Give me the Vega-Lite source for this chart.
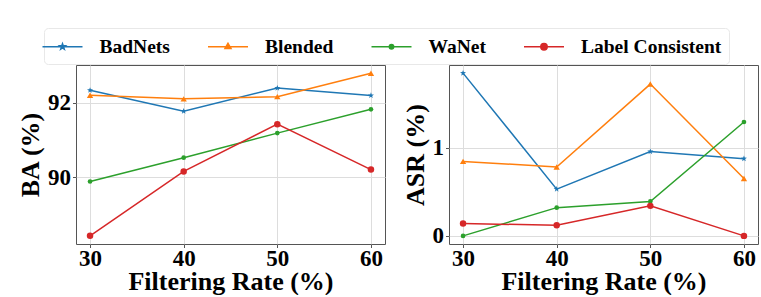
{
  "$schema": "https://vega.github.io/schema/vega-lite/v6.json",
  "padding": {"left": 17, "top": 27, "right": 0, "bottom": 0},
  "background": "white",
  "spacing": 15,
  "config": {
    "view": {"stroke": "#555555", "strokeWidth": 1},
    "font": "Liberation Serif, Times New Roman, serif",
    "axis": {
      "labelFont": "Liberation Serif, Times New Roman, serif", "labelFontSize": 23, "labelFontWeight": "bold", "labelColor": "#000000",
      "titleFont": "Liberation Serif, Times New Roman, serif", "titleFontSize": 26, "titleFontWeight": "bold", "titleColor": "#000000",
      "domain": false, "ticks": true, "tickSize": 3.5, "tickColor": "#555555", "labelPadding": 2,
      "gridColor": "#dddddd", "gridWidth": 1
    },
    "axisX": {"titlePadding": -2, "labelPadding": 0},
    "axisY": {"titlePadding": 4}
  },
  "datasets": {
    "ba": [
      {"rate": 30, "attack": "BadNets", "value": 92.34},
      {"rate": 40, "attack": "BadNets", "value": 91.78},
      {"rate": 50, "attack": "BadNets", "value": 92.40},
      {"rate": 60, "attack": "BadNets", "value": 92.20},
      {"rate": 30, "attack": "Blended", "value": 92.21},
      {"rate": 40, "attack": "Blended", "value": 92.11},
      {"rate": 50, "attack": "Blended", "value": 92.17},
      {"rate": 60, "attack": "Blended", "value": 92.80},
      {"rate": 30, "attack": "WaNet", "value": 89.89},
      {"rate": 40, "attack": "WaNet", "value": 90.53},
      {"rate": 50, "attack": "WaNet", "value": 91.19},
      {"rate": 60, "attack": "WaNet", "value": 91.83},
      {"rate": 30, "attack": "Label Consistent", "value": 88.43},
      {"rate": 40, "attack": "Label Consistent", "value": 90.16},
      {"rate": 50, "attack": "Label Consistent", "value": 91.43},
      {"rate": 60, "attack": "Label Consistent", "value": 90.21}
    ],
    "asr": [
      {"rate": 30, "attack": "BadNets", "value": 1.844},
      {"rate": 40, "attack": "BadNets", "value": 0.53},
      {"rate": 50, "attack": "BadNets", "value": 0.955},
      {"rate": 60, "attack": "BadNets", "value": 0.875},
      {"rate": 30, "attack": "Blended", "value": 0.844},
      {"rate": 40, "attack": "Blended", "value": 0.78},
      {"rate": 50, "attack": "Blended", "value": 1.72},
      {"rate": 60, "attack": "Blended", "value": 0.65},
      {"rate": 30, "attack": "WaNet", "value": 0.0},
      {"rate": 40, "attack": "WaNet", "value": 0.32},
      {"rate": 50, "attack": "WaNet", "value": 0.39},
      {"rate": 60, "attack": "WaNet", "value": 1.29},
      {"rate": 30, "attack": "Label Consistent", "value": 0.14},
      {"rate": 40, "attack": "Label Consistent", "value": 0.12},
      {"rate": 50, "attack": "Label Consistent", "value": 0.34},
      {"rate": 60, "attack": "Label Consistent", "value": 0.0}
    ]
  },
  "hconcat": [
    {
      "width": 309, "height": 179,
      "data": {"name": "ba"},
      "encoding": {
        "x": {"field": "rate", "type": "quantitative", "title": "Filtering Rate (%)",
              "scale": {"domain": [28.5, 61.5], "nice": false, "zero": false},
              "axis": {"values": [30, 40, 50, 60]}},
        "y": {"field": "value", "type": "quantitative", "title": "BA (%)",
              "scale": {"domain": [88.21, 93.02], "nice": false, "zero": false},
              "axis": {"values": [90, 92]}},
        "color": {"field": "attack", "type": "nominal",
          "scale": {"domain": ["BadNets", "Blended", "WaNet", "Label Consistent"], "range": ["#1f77b4", "#ff7f0e", "#2ca02c", "#d62728"]},
          "legend": {
            "orient": "none", "legendX": -32, "legendY": -37, "direction": "horizontal", "columns": 4, "title": null,
            "labelFont": "Liberation Serif, Times New Roman, serif", "labelFontSize": 19.5, "labelFontWeight": "bold", "labelColor": "#000000",
            "symbolSize": 400, "symbolStrokeWidth": 1.5, "labelOffset": 26, "columnPadding": 34.5, "padding": 7.5,
            "strokeColor": "#e8e8e8", "cornerRadius": 4, "fillColor": "white",
            "encode": {"symbols": {"update": {
              "shape": {"signal": "datum.value == 'BadNets' ? 'M-2,0L2,0M0,-0.3L0.072,-0.1L0.286,-0.094L0.114,0.036L0.178,0.244L0,0.12L-0.178,0.244L-0.114,0.036L-0.286,-0.094L-0.072,-0.1Z' : datum.value == 'Blended' ? 'M-2,0L2,0M0,-0.34L0.3,0.18L-0.3,0.18Z' : datum.value == 'WaNet' ? 'M-2,0L2,0M-0.22,0A0.22,0.22 0 1,0 0.22,0A0.22,0.22 0 1,0 -0.22,0Z' : 'M-2,0L2,0M-0.32,0A0.32,0.32 0 1,0 0.32,0A0.32,0.32 0 1,0 -0.32,0Z'"},
              "fill": {"signal": "datum.value == 'BadNets' ? '#1f77b4' : datum.value == 'Blended' ? '#ff7f0e' : datum.value == 'WaNet' ? '#2ca02c' : '#d62728'"},
              "stroke": {"signal": "datum.value == 'BadNets' ? '#1f77b4' : datum.value == 'Blended' ? '#ff7f0e' : datum.value == 'WaNet' ? '#2ca02c' : '#d62728'"},
              "strokeWidth": {"value": 1.5},
              "opacity": {"value": 1},
              "fillOpacity": {"value": 1},
              "strokeOpacity": {"value": 1}
            }}}
          }
        }
      },
      "layer": [
        {"mark": {"type": "line", "strokeWidth": 1.5}},
        {"transform": [{"filter": "datum.attack == 'BadNets'"}],
         "mark": {"type": "point", "filled": true, "opacity": 1, "size": 40, "shape": "M0,-1L0.24,-0.33L0.95,-0.31L0.38,0.12L0.59,0.81L0,0.4L-0.59,0.81L-0.38,0.12L-0.95,-0.31L-0.24,-0.33Z"}},
        {"transform": [{"filter": "datum.attack == 'Blended'"}],
         "mark": {"type": "point", "filled": true, "opacity": 1, "size": 40, "shape": "triangle-up"}},
        {"transform": [{"filter": "datum.attack == 'WaNet'"}],
         "mark": {"type": "point", "filled": true, "opacity": 1, "size": 22, "shape": "circle"}},
        {"transform": [{"filter": "datum.attack == 'Label Consistent'"}],
         "mark": {"type": "point", "filled": true, "opacity": 1, "size": 42, "shape": "circle"}}
      ]
    },
    {
      "width": 309, "height": 179,
      "data": {"name": "asr"},
      "encoding": {
        "x": {"field": "rate", "type": "quantitative", "title": "Filtering Rate (%)",
              "scale": {"domain": [28.5, 61.5], "nice": false, "zero": false},
              "axis": {"values": [30, 40, 50, 60]}},
        "y": {"field": "value", "type": "quantitative", "title": "ASR (%)",
              "scale": {"domain": [-0.092, 1.936], "nice": false, "zero": false},
              "axis": {"values": [0, 1]}},
        "color": {"field": "attack", "type": "nominal",
          "scale": {"domain": ["BadNets", "Blended", "WaNet", "Label Consistent"], "range": ["#1f77b4", "#ff7f0e", "#2ca02c", "#d62728"]}}
      },
      "layer": [
        {"mark": {"type": "line", "strokeWidth": 1.5}},
        {"transform": [{"filter": "datum.attack == 'BadNets'"}],
         "mark": {"type": "point", "filled": true, "opacity": 1, "size": 40, "shape": "M0,-1L0.24,-0.33L0.95,-0.31L0.38,0.12L0.59,0.81L0,0.4L-0.59,0.81L-0.38,0.12L-0.95,-0.31L-0.24,-0.33Z"}},
        {"transform": [{"filter": "datum.attack == 'Blended'"}],
         "mark": {"type": "point", "filled": true, "opacity": 1, "size": 40, "shape": "triangle-up"}},
        {"transform": [{"filter": "datum.attack == 'WaNet'"}],
         "mark": {"type": "point", "filled": true, "opacity": 1, "size": 22, "shape": "circle"}},
        {"transform": [{"filter": "datum.attack == 'Label Consistent'"}],
         "mark": {"type": "point", "filled": true, "opacity": 1, "size": 42, "shape": "circle"}}
      ]
    }
  ]
}
